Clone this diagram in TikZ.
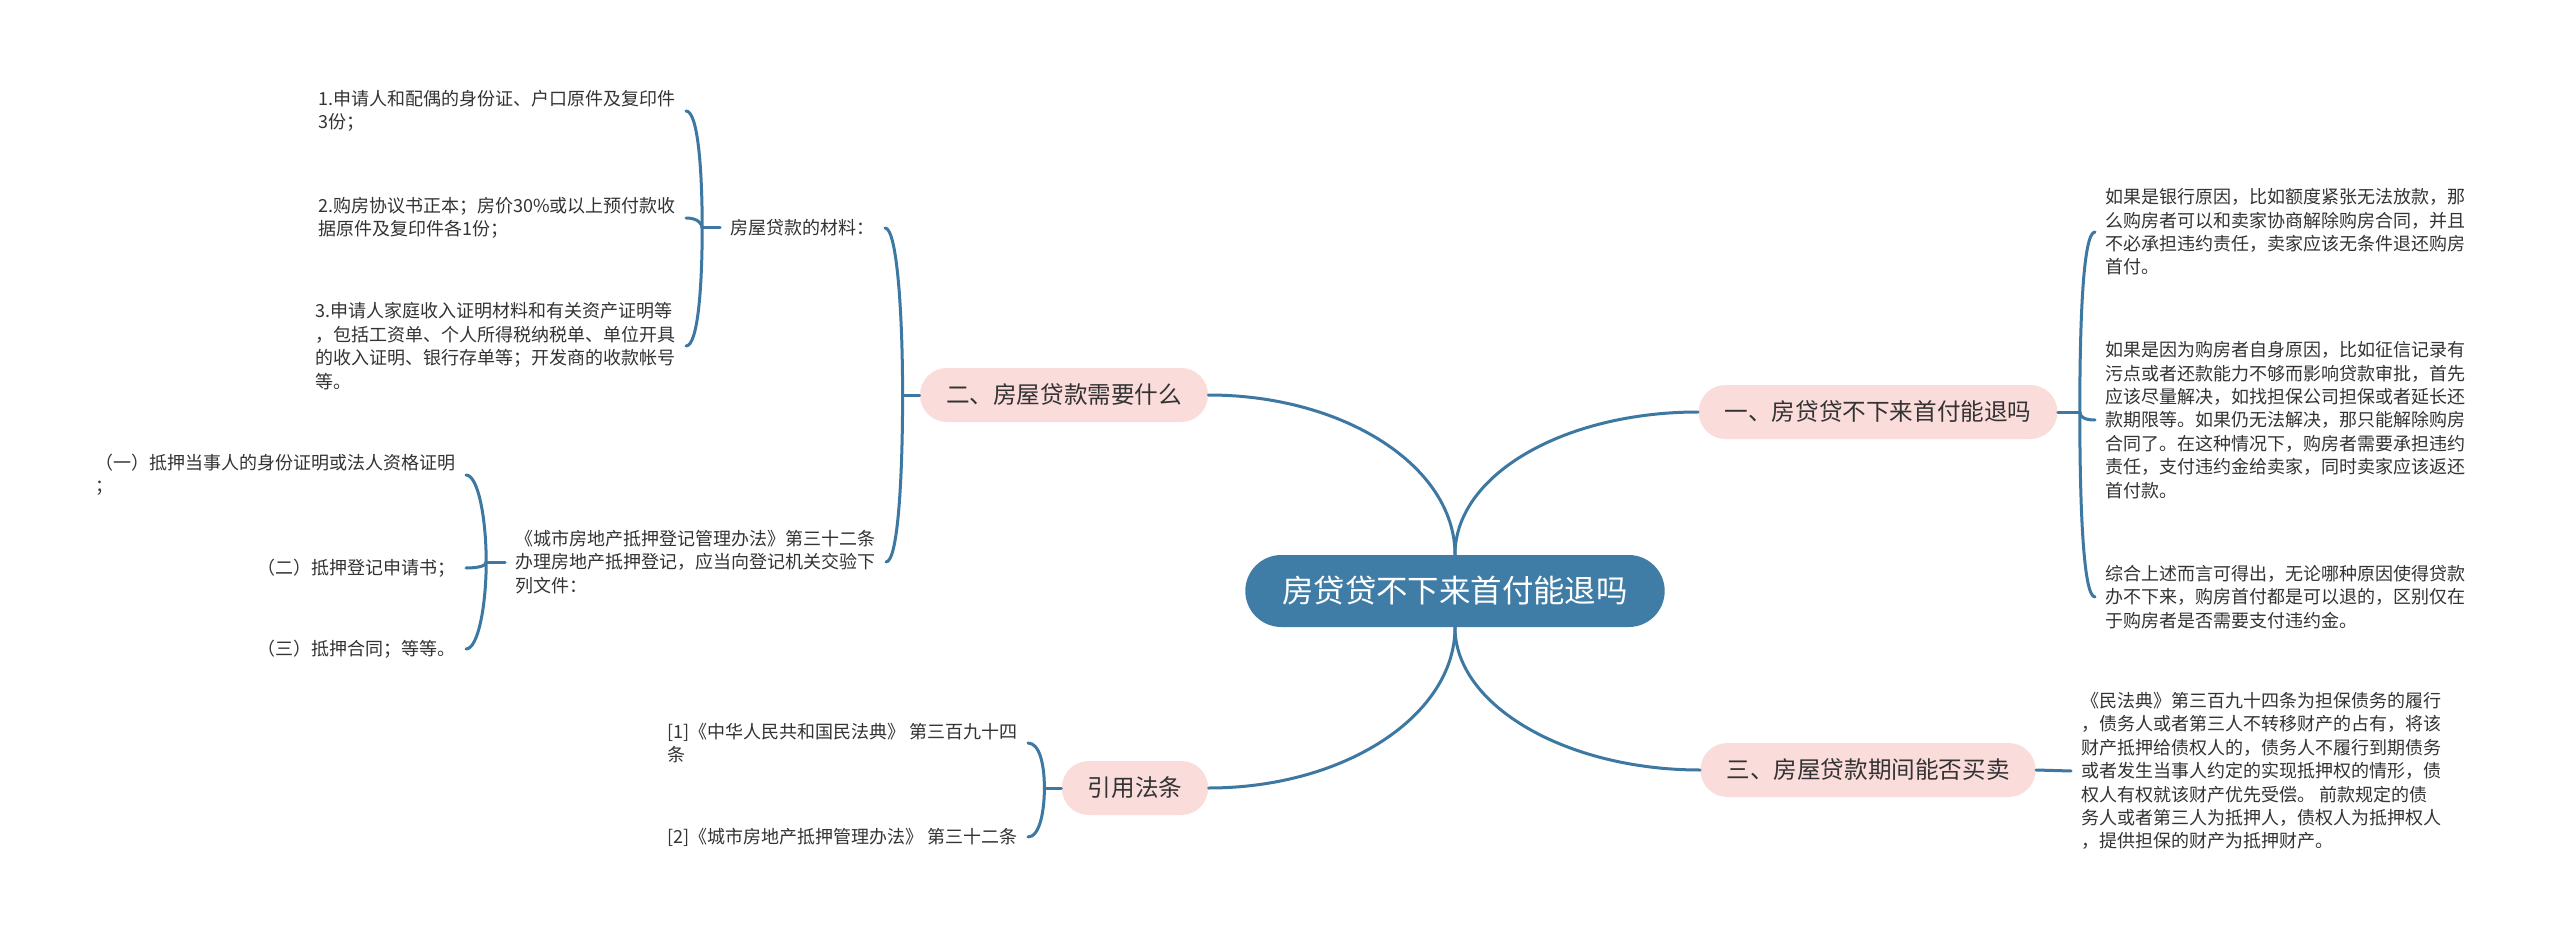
\documentclass[tikz,border=0pt]{standalone}
\usepackage{fontspec}
\usepackage{tikz}
\usetikzlibrary{positioning, calc}
\newfontfamily\cjk{Noto Sans CJK SC}
\definecolor{rootblue}{HTML}{407DA6}
\definecolor{linkblue}{HTML}{3D78A3}
\definecolor{topicpink}{HTML}{FADCDB}
\definecolor{txtgray}{HTML}{333333}
\newcommand{\leaffont}{\cjk\fontsize{9pt}{11.7pt}\selectfont}
\newcommand{\topicfont}{\cjk\fontsize{11.8pt}{14pt}\selectfont}
\newcommand{\rootfont}{\cjk\fontsize{15.7pt}{18pt}\selectfont}

\begin{document}
\begin{tikzpicture}[x=0.5pt, y=-0.5pt,
  root/.style={fill=rootblue, text=white, font=\rootfont, rounded corners=18pt, minimum height=36pt, inner xsep=18.5pt, inner ysep=0pt},
  topic/.style={fill=topicpink, text=txtgray, font=\topicfont, rounded corners=13.5pt, minimum height=27pt, inner xsep=13pt, inner ysep=0pt},
  leaf/.style={text=txtgray, font=\leaffont, align=left, inner xsep=5pt, inner ysep=0pt},
  link/.style={draw=linkblue, line width=1.5pt, line cap=round},
  bk/.style={out distance=#1, in distance=6pt}]
  \path[use as bounding box, fill=white] (0,0) rectangle (2560,941);

  \node[root] (root) at (1455,591) {房贷贷不下来首付能退吗};
  \node[topic] (b1) at (1878,412) {一、房贷贷不下来首付能退吗};
  \node[topic] (b2) at (1064,395) {二、房屋贷款需要什么};
  \node[topic] (b3) at (1868,770) {三、房屋贷款期间能否买卖};
  \node[topic] (b4) at (1135,788) {引用法条};

  \node[leaf, anchor=west] (a1) at (2095,232) {如果是银行原因，比如额度紧张无法放款，那\\么购房者可以和卖家协商解除购房合同，并且\\不必承担违约责任，卖家应该无条件退还购房\\首付。};
  \node[leaf, anchor=west] (a2) at (2095,420) {如果是因为购房者自身原因，比如征信记录有\\污点或者还款能力不够而影响贷款审批，首先\\应该尽量解决，如找担保公司担保或者延长还\\款期限等。如果仍无法解决，那只能解除购房\\合同了。在这种情况下，购房者需要承担违约\\责任，支付违约金给卖家，同时卖家应该返还\\首付款。};
  \node[leaf, anchor=west] (a3) at (2095,597) {综合上述而言可得出，无论哪种原因使得贷款\\办不下来，购房首付都是可以退的，区别仅在\\于购房者是否需要支付违约金。};
  \node[leaf, anchor=west] (d1) at (2071,771) {《民法典》第三百九十四条为担保债务的履行\\，债务人或者第三人不转移财产的占有，将该\\财产抵押给债权人的，债务人不履行到期债务\\或者发生当事人约定的实现抵押权的情形，债\\权人有权就该财产优先受偿。 前款规定的债\\务人或者第三人为抵押人，债权人为抵押权人\\，提供担保的财产为抵押财产。};

  \node[leaf, anchor=east] (m1) at (885,228) {房屋贷款的材料：};
  \node[leaf, anchor=east] (m2) at (886,562) {《城市房地产抵押登记管理办法》第三十二条\\办理房地产抵押登记，应当向登记机关交验下\\列文件：};
  \node[leaf, anchor=east] (p1) at (686,111) {1.申请人和配偶的身份证、户口原件及复印件\\3份；};
  \node[leaf, anchor=east] (p2) at (686,218) {2.购房协议书正本；房价30\%或以上预付款收\\据原件及复印件各1份；};
  \node[leaf, anchor=east] (p3) at (686,346) {3.申请人家庭收入证明材料和有关资产证明等\\，包括工资单、个人所得税纳税单、单位开具\\的收入证明、银行存单等；开发商的收款帐号\\等。};
  \node[leaf, anchor=east] (q1) at (466,475) {（一）抵押当事人的身份证明或法人资格证明\\；};
  \node[leaf, anchor=east] (q2) at (466,568) {（二）抵押登记申请书；};
  \node[leaf, anchor=east] (q3) at (466,649) {（三）抵押合同；等等。};
  \node[leaf, anchor=east] (r1) at (1028,743) {[1]《中华人民共和国民法典》 第三百九十四\\条};
  \node[leaf, anchor=east] (r2) at (1028,837) {[2]《城市房地产抵押管理办法》 第三十二条};

  \draw[link] (root.north) to[out=90, in=0, out distance=44pt, in distance=68pt] (b2.east);
  \draw[link] (root.north) to[out=90, in=180, out distance=40pt, in distance=67pt] (b1.west);
  \draw[link] (root.south) to[out=270, in=180, out distance=39pt, in distance=67pt] (b3.west);
  \draw[link] (root.south) to[out=270, in=0, out distance=44pt, in distance=68pt] (b4.east);

  \draw[link] (b1.east) -- ++(22,0) coordinate (j1);
  \draw[link] (j1) to[out=90, in=180, bk=45pt] (a1.west);
  \draw[link] (j1) to[out=270, in=180, bk=2pt] (a2.west);
  \draw[link] (j1) to[out=270, in=180, bk=45pt] (a3.west);
  \draw[link] (b3.east) -- (d1.west);

  \draw[link] (b2.west) -- ++(-17,0) coordinate (j2);
  \draw[link] (j2) to[out=90, in=0, bk=41pt] (m1.east);
  \draw[link] (j2) to[out=270, in=0, bk=41pt] (m2.east);

  \draw[link] (m1.west) -- ++(-18,0) coordinate (j3);
  \draw[link] (j3) to[out=90, in=0, bk=29pt] (p1.east);
  \draw[link] (j3) to[out=90, in=0, bk=2pt] (p2.east);
  \draw[link] (j3) to[out=270, in=0, bk=29pt] (p3.east);

  \draw[link] (m2.west) -- ++(-19,0) coordinate (j4);
  \draw[link] (j4) to[out=90, in=0, bk=22pt] (q1.east);
  \draw[link] (j4) to[out=270, in=0, bk=2pt] (q2.east);
  \draw[link] (j4) to[out=270, in=0, bk=22pt] (q3.east);

  \draw[link] (b4.west) -- ++(-17,0) coordinate (j5);
  \draw[link] (j5) to[out=90, in=0, bk=11pt] (r1.east);
  \draw[link] (j5) to[out=270, in=0, bk=11pt] (r2.east);
\end{tikzpicture}
\end{document}
